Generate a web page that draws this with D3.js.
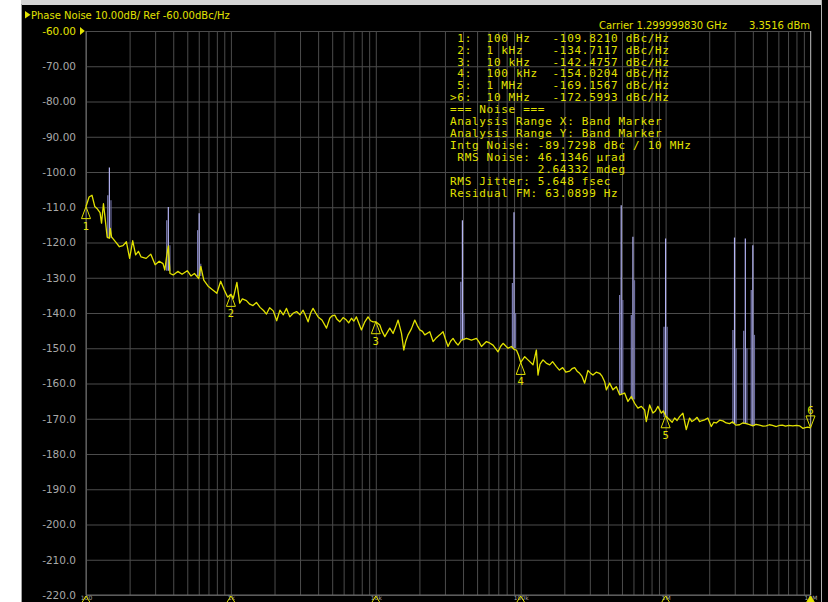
<!DOCTYPE html>
<html>
<head>
<meta charset="utf-8">
<script src="https://cdn.jsdelivr.net/npm/d3@7"></script>
<style>
    html, body { margin: 0; padding: 0; background: #000; overflow: hidden; }
    svg { display: block; }
    .lbl { font-family: "DejaVu Sans", sans-serif; }
    .mono { font-family: "DejaVu Sans Mono", monospace; white-space: pre; font-size: 11px; letter-spacing: 0.7px; }
</style>
</head>
<body>
<svg id="chart" width="828" height="602"></svg>
<script>
// trace points (Hz, dBc/Hz)
var traceFreq = [
    100, 105, 110, 115, 120, 125, 128, 132, 135, 140, 145, 147, 150, 160, 170, 180, 190, 200, 210, 220,
    230, 240, 260, 280, 300, 320, 340, 350, 360, 370, 380, 400, 430, 460, 500, 530, 560, 600, 620, 650,
    700, 750, 800, 850, 900, 950,
    1000, 1040, 1100, 1150, 1200, 1280, 1350, 1420, 1500, 1590, 1680, 1760, 1850, 1960, 2070, 2180, 2300, 2420, 2550, 2700,
    2840, 3000, 3150, 3280, 3410, 3550, 3690, 3850, 4000, 4250, 4570, 4810, 5000, 5210, 5400, 5640, 5950, 6270, 6500, 6790,
    7050, 7350, 7650, 7960, 8400, 8840, 9200, 9580,
    10000, 10660, 11000, 11540, 12000, 12490, 13160, 13700, 14250, 15040, 15600, 16100, 16700, 17600, 18580, 19300, 20110, 21000, 21770, 23570,
    24850, 26200, 27630, 29110, 30300, 31520, 32800, 34130, 35500, 36950, 39000, 42230, 45710, 49490, 51500, 53580, 58000, 61000, 64420, 69750,
    72600, 75510, 81750, 86300, 89900, 93400, 96700,
    100000, 106600, 112300, 121600, 128300, 131600, 136000, 142500, 150000, 158500, 166000, 176300, 185000, 194900, 205000, 217700, 226000, 235700, 245000, 255200,
    265000, 276300, 291100, 302000, 315200, 332000, 350600, 365000, 379600, 390000, 411100, 433100, 457100, 481800, 521500, 549500, 580000, 611200, 644200, 680000,
    716600, 736000, 775700, 817500, 850000, 884900, 934000, 965000,
    1000000, 1066000, 1110000, 1154000, 1200000, 1249000, 1316000, 1389000, 1464000, 1520000, 1585000, 1650000, 1716000, 1790000, 1858000, 1957000, 2066000, 2150000, 2237000, 2360000,
    2485000, 2620000, 2763000, 2900000, 3050000, 3238000, 3400000, 3603000, 3800000, 4000000, 4200000, 4449000, 4700000, 4949000, 5200000, 5470000, 5800000, 6112000, 6400000, 6723000,
    7100000, 7551000, 8000000, 8398000, 8849000, 9200000, 9580000, 10000000
];
var traceLevel = [
    -109.8, -107.1, -106.6, -109.8, -110.5, -111.5, -114.5, -109.0, -112.5, -118.5, -118.8, -116.0, -118.4, -119.8, -121.2, -120.9, -119.8, -124.5, -119.5, -123.5,
    -122.5, -124.1, -124.5, -123.3, -126.3, -125.3, -126.0, -127.8, -124.0, -121.0, -128.8, -129.2, -128.2, -129.0, -128.0, -129.5, -128.8, -130.2, -126.8, -130.7,
    -132.5, -133.5, -134.4, -131.0, -133.5, -135.5,
    -134.7, -135.8, -131.3, -137.2, -136.0, -136.5, -137.5, -137.9, -137.0, -138.4, -139.3, -140.3, -138.5, -139.4, -142.2, -139.2, -140.5, -138.7, -141.1, -140.0,
    -139.6, -140.5, -139.2, -140.8, -142.5, -140.0, -138.7, -140.0, -141.1, -142.0, -144.3, -141.5, -140.8, -140.6, -141.8, -142.5, -141.3, -142.0, -142.8, -141.5,
    -142.3, -141.1, -143.0, -144.8, -142.5, -141.1, -142.2, -142.5,
    -142.5, -143.4, -145.0, -146.7, -145.5, -144.3, -145.8, -144.0, -142.0, -145.8, -150.5, -148.0, -146.2, -144.5, -142.0, -143.5, -144.8, -145.2, -146.2, -145.3,
    -148.1, -147.0, -146.2, -145.3, -147.5, -149.5, -148.0, -147.2, -148.3, -149.1, -147.7, -147.2, -147.7, -147.2, -148.2, -149.5, -148.1, -148.5, -149.1, -151.0,
    -149.5, -148.6, -150.0, -149.5, -150.3, -150.5, -152.0,
    -154.0, -152.4, -153.3, -154.7, -150.5, -157.6, -154.5, -153.3, -154.2, -154.7, -153.8, -155.2, -156.2, -155.5, -156.8, -156.5, -155.8, -155.5, -156.5, -157.1,
    -158.0, -159.9, -156.3, -157.0, -157.6, -156.8, -157.1, -158.0, -159.5, -161.8, -159.9, -161.8, -160.9, -163.2, -162.7, -165.1, -163.7, -165.6, -167.0, -166.5,
    -167.5, -170.8, -166.1, -168.4, -167.8, -166.5, -168.4, -167.8,
    -169.2, -170.3, -171.0, -169.8, -170.5, -169.4, -168.4, -173.1, -169.8, -170.8, -170.3, -169.6, -170.8, -170.5, -170.3, -169.8, -172.2, -171.0, -171.2, -170.4,
    -170.6, -171.2, -171.4, -170.9, -171.8, -171.7, -171.2, -171.4, -171.7, -172.0, -171.6, -171.8, -172.1, -172.0, -171.7, -171.9, -172.2, -171.9, -171.8, -172.1,
    -171.9, -172.0, -171.9, -172.0, -172.7, -172.5, -172.4, -172.6
];

// spurs (purple trace)
var spurFreq  = [145, 370, 604, 39600, 89900, 494000, 595000, 1000000, 2990000, 3550000, 4000000];
var spurPeak  = [-98.7, -109.9, -111.7, -113.7, -111.4, -109.4, -118.4, -118.9, -118.6, -118.9, -120.8];
var spurLeft  = [-106.6, -113.7, -116.5, -131.1, -131.5, -134.9, -140.6, -143.9, -144.8, -145.0, -133.5];
var spurRight = [-108.0, -120.8, -126.0, -140.0, -140.0, -136.3, -130.7, -143.9, -150.0, -150.0, -146.2];
var spurBase  = [-118.8, -128.0, -129.5, -147.7, -150.0, -163.0, -164.5, -169.5, -171.4, -171.5, -172.0];

// markers
var markerFreq  = [100, 1000, 10000, 100000, 1000000, 10000000];
var markerName  = ['100 Hz', '1 kHz', '10 kHz', '100 kHz', '1 MHz', '10 MHz'];
var markerLevel = [-109.8210, -134.7117, -142.4757, -154.0204, -169.1567, -172.5993];

var noiseLines = [
    '=== Noise ===',
    'Analysis Range X: Band Marker',
    'Analysis Range Y: Band Marker',
    'Intg Noise: -89.7298 dBc / 10 MHz',
    ' RMS Noise: 46.1346 \u00b5rad',
    '            2.64332 mdeg',
    'RMS Jitter: 5.648 fsec',
    'Residual FM: 63.0899 Hz'
];

var yTicks = [-60, -70, -80, -90, -100, -110, -120, -130, -140, -150, -160, -170, -180, -190, -200, -210, -220];
var xLabelTicks = [100, 1000, 10000, 100000, 1000000, 10000000];

var titleText = 'Phase Noise 10.00dB/ Ref -60.00dBc/Hz';
var carrierText = 'Carrier 1.299999830 GHz';
var powerText = '3.3516 dBm';

(function () {
    'use strict';

    var yellow = '#e2e200';
    var svg = d3.select('#chart');

    var left = 86, right = 810.5, top = 31, bottom = 595;

    var x = d3.scaleLog().domain([100, 1e7]).range([left, right]);
    var y = d3.scaleLinear().domain([-60, -220]).range([top, bottom]);

    // window frame
    svg.append('rect').attr('x', 0).attr('y', 0).attr('width', 828).attr('height', 602).attr('fill', '#000');
    svg.append('rect').attr('x', 0).attr('y', 0).attr('width', 822).attr('height', 5).attr('fill', '#d4d4d4');
    svg.append('rect').attr('x', 0).attr('y', 0).attr('width', 21).attr('height', 602).attr('fill', '#fff');
    svg.append('line').attr('x1', 21.5).attr('x2', 21.5).attr('y1', 4).attr('y2', 602)
        .attr('stroke', '#a0a0a0');
    svg.append('line').attr('x1', 821.5).attr('x2', 821.5).attr('y1', 0).attr('y2', 602)
        .attr('stroke', '#b0b0b0');

    //horizontal grid + y labels
    var yAxis = svg.append('g')
        .attr('transform', 'translate(' + left + ',0)')
        .call(d3.axisLeft(y)
            .tickValues(yTicks)
            .tickSize(-(right - left))
            .tickPadding(10)
            .tickFormat(function (d) { return d > -100 ? d.toFixed(2) : d.toFixed(1); }));
    yAxis.select('.domain').remove();
    yAxis.selectAll('line').attr('stroke', '#4c4c4c');
    yAxis.selectAll('text')
        .attr('class', 'lbl')
        .style('font-size', '10.5px')
        .attr('fill', function (d) { return d === -60 ? yellow : '#a8a8a8'; });

    //vertical log grid + frequency labels squeezed under the plot
    var xAxis = svg.append('g')
        .attr('transform', 'translate(0,' + bottom + ')')
        .call(d3.axisBottom(x)
            .ticks(10)
            .tickSize(-(bottom - top))
            .tickPadding(1)
            .tickFormat(function (d) {
                return xLabelTicks.indexOf(d) >= 0 ? d3.format('~s')(d) : '';
            }));
    xAxis.select('.domain').remove();
    xAxis.selectAll('line').attr('stroke', '#4c4c4c');
    xAxis.selectAll('text')
        .attr('class', 'lbl')
        .attr('dy', '0.72em')
        .style('font-size', '6px')
        .attr('fill', '#a8a8a8');

    // plot border
    svg.append('path')
        .attr('d', 'M' + left + ',' + top + 'V' + bottom + 'H' + right)
        .attr('fill', 'none').attr('stroke', '#6c6c6c');
    svg.append('line')
        .attr('x1', right).attr('x2', right).attr('y1', top).attr('y2', bottom)
        .attr('stroke', '#9c9c9c');

    // title
    svg.append('path').attr('d', 'M25,11L30.5,14.8L25,18.6Z').attr('fill', yellow);
    svg.append('text').attr('class', 'lbl').attr('x', 31).attr('y', 18.5)
        .style('font-size', '10px').attr('fill', yellow).text(titleText);
    // ref arrow next to -60.00
    svg.append('path').attr('d', 'M80,27L84.8,31L80,35Z').attr('fill', yellow);

    svg.append('text').attr('class', 'lbl').attr('x', 599).attr('y', 29)
        .style('font-size', '10px').attr('fill', yellow).text(carrierText);
    svg.append('text').attr('class', 'lbl').attr('x', 810).attr('y', 29)
        .attr('text-anchor', 'end')
        .style('font-size', '10px').attr('fill', yellow).text(powerText);

    // marker table
    var tableLines = markerName.map(function (name, i) {
        var pad = (name + '         ').slice(0, 9);
        return (i === 5 ? '>' : ' ') + (i + 1) + ':  ' + pad + markerLevel[i].toFixed(4) + ' dBc/Hz';
    }).concat(noiseLines);

    svg.append('g').selectAll('text')
        .data(tableLines).enter()
        .append('text')
        .attr('class', 'mono')
        .attr('x', 450)
        .attr('y', function (d, i) { return 41.6 + i * 11.95; })
        .attr('fill', yellow)
        .text(function (d) { return d; });

    // spurs
    var spurs = svg.append('g');
    spurFreq.forEach(function (f, i) {
        var sx = x(f);
        spurs.append('line')
            .attr('x1', sx - 1.6).attr('x2', sx - 1.6)
            .attr('y1', y(spurBase[i])).attr('y2', y(spurLeft[i]))
            .attr('stroke', '#7c7cb4').attr('stroke-width', 1.2);
        spurs.append('line')
            .attr('x1', sx + 1.6).attr('x2', sx + 1.6)
            .attr('y1', y(spurBase[i])).attr('y2', y(spurRight[i]))
            .attr('stroke', '#6a6a9c').attr('stroke-width', 1.2);
        spurs.append('line')
            .attr('x1', sx).attr('x2', sx)
            .attr('y1', y(spurBase[i])).attr('y2', y(spurPeak[i]))
            .attr('stroke', '#b4b4f4').attr('stroke-width', 1.2);
    });

    // noise trace
    var line = d3.line()
        .x(function (d) { return x(d[0]); })
        .y(function (d) { return y(d[1]); });
    svg.append('path')
        .datum(d3.zip(traceFreq, traceLevel))
        .attr('d', line)
        .attr('fill', 'none')
        .attr('stroke', yellow)
        .attr('stroke-width', 1.3)
        .attr('stroke-linejoin', 'round');

    // markers on trace
    var mk = svg.append('g').selectAll('g')
        .data(markerFreq).enter()
        .append('g')
        .attr('transform', function (d, i) {
            return 'translate(' + x(d) + ',' + y(markerLevel[i]) + ')';
        });
    mk.append('path')
        .attr('d', function (d, i) { return i === 5 ? 'M0,0L-4.5,-12L4.5,-12Z' : 'M0,0L-4.5,12L4.5,12Z'; })
        .attr('fill', 'none')
        .attr('stroke', yellow);
    mk.append('text')
        .attr('class', 'lbl')
        .attr('text-anchor', 'middle')
        .attr('y', function (d, i) { return i === 5 ? -14 : 23; })
        .style('font-size', '10px')
        .attr('fill', yellow)
        .text(function (d, i) { return i + 1; });

    // marker flags under the x axis
    svg.append('g').selectAll('path')
        .data(markerFreq).enter()
        .append('path')
        .attr('d', function (d) { var cx = x(d); return 'M' + cx + ',596L' + (cx - 5) + ',604L' + (cx + 5) + ',604Z'; })
        .attr('fill', function (d, i) { return i === 5 ? yellow : 'none'; })
        .attr('stroke', yellow);
})();
</script>
</body>
</html>
